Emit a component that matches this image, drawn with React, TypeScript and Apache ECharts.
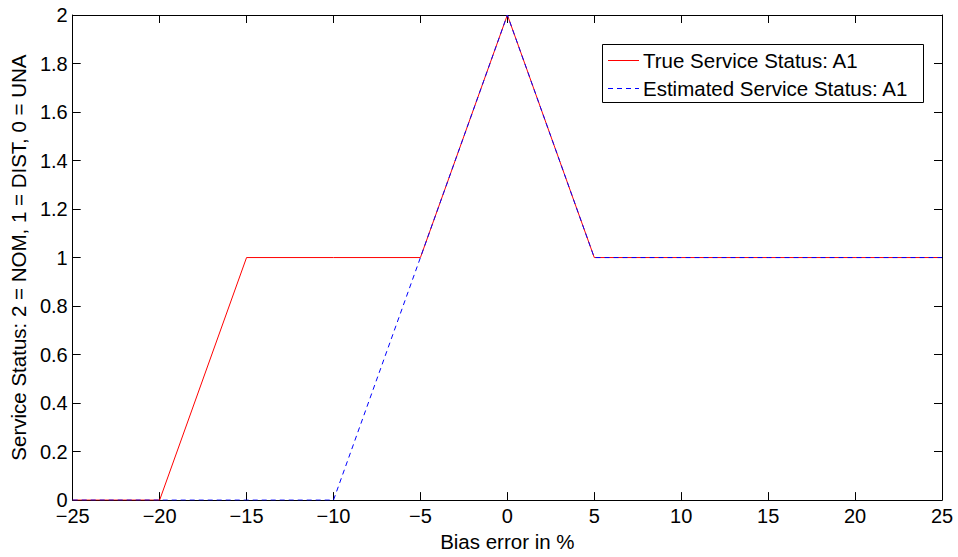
import React, { useEffect, useRef } from "react";
import * as echarts from "echarts";

const xValues = [-25, -20, -15, -10, -5, 0, 5, 10, 15, 20, 25];
const trueStatus = [0, 0, 1, 1, 1, 2, 1, 1, 1, 1, 1];
const estimatedStatus = [0, 0, 0, 0, 1, 2, 1, 1, 1, 1, 1];
const seriesNames = ["True Service Status: A1", "Estimated Service Status: A1"];
const seriesColors = ["#ff0000", "#0000ff"];
const xAxisTitle = "Bias error in %";
const yAxisTitle = "Service Status: 2 = NOM, 1 = DIST, 0 = UNA";

const FONT = "'Liberation Sans', Arial, Helvetica, sans-serif";
const FS = 20;
const LFS = 20.5;
const DASH = [5, 4];

export default function App() {
  const ref = useRef<HTMLDivElement>(null);
  useEffect(() => {
    if (!ref.current) return;
    const chart = echarts.init(ref.current, undefined, { renderer: "svg" });
    const axisLine = { show: true, onZero: false, lineStyle: { color: "#000", width: 1 } };
    const axisTick = { show: true, inside: true, length: 8, lineStyle: { color: "#000", width: 1 } };
    const fmtX = (v: number) => String(v).replace("-", "\u2212");

    const lgX = 602;
    const lgY = 44;
    const rowY = [60.5, 88.5];
    const legendGraphics: any[] = [
      {
        type: "rect",
        shape: { x: lgX + 0.5, y: lgY + 0.5, width: 321, height: 58 },
        style: { fill: "#fff", stroke: "#000", lineWidth: 1 },
        z: 10,
      },
    ];
    seriesNames.forEach((n, i) => {
      legendGraphics.push({
        type: "line",
        shape: { x1: lgX + 6, y1: rowY[i], x2: lgX + 37, y2: rowY[i] },
        style: { stroke: seriesColors[i], lineWidth: 1, lineDash: i === 1 ? DASH : null },
        z: 11,
      });
      legendGraphics.push({
        type: "text",
        x: lgX + 41,
        y: rowY[i],
        style: { text: n, fontFamily: FONT, fontSize: LFS, fill: "#000", verticalAlign: "middle", align: "left" },
        z: 11,
      });
    });

    chart.setOption({
      animation: false,
      backgroundColor: "#fff",
      textStyle: { fontFamily: FONT, color: "#000" },
      grid: { left: 70, right: 16, top: 15, bottom: 51, containLabel: false },
      graphic: legendGraphics,
      xAxis: [
        {
          type: "value",
          min: -25,
          max: 25,
          interval: 5,
          name: xAxisTitle,
          nameLocation: "middle",
          nameGap: 22,
          nameTextStyle: { fontFamily: FONT, fontSize: LFS, color: "#000" },
          axisLine,
          axisTick,
          splitLine: { show: false },
          axisLabel: { fontFamily: FONT, fontSize: FS, color: "#000", margin: 6, formatter: fmtX },
        },
        {
          type: "value",
          position: "top",
          min: -25,
          max: 25,
          interval: 5,
          axisLine,
          axisTick,
          splitLine: { show: false },
          axisLabel: { show: false },
        },
      ],
      yAxis: [
        {
          type: "value",
          min: 0,
          max: 2,
          interval: 0.2,
          name: yAxisTitle,
          nameLocation: "middle",
          nameGap: 38,
          nameRotate: 90,
          nameTextStyle: { fontFamily: FONT, fontSize: LFS, color: "#000" },
          axisLine,
          axisTick,
          splitLine: { show: false },
          axisLabel: { fontFamily: FONT, fontSize: FS, color: "#000", margin: 5 },
        },
        {
          type: "value",
          position: "right",
          min: 0,
          max: 2,
          interval: 0.2,
          axisLine,
          axisTick,
          splitLine: { show: false },
          axisLabel: { show: false },
        },
      ],
      series: [
        {
          name: seriesNames[0],
          type: "line",
          xAxisIndex: 0,
          yAxisIndex: 0,
          data: xValues.map((x, i) => [x, trueStatus[i]]),
          showSymbol: false,
          symbol: "none",
          lineStyle: { color: seriesColors[0], width: 1 },
          itemStyle: { color: seriesColors[0] },
          z: 2,
        },
        {
          name: seriesNames[1],
          type: "line",
          xAxisIndex: 0,
          yAxisIndex: 0,
          data: xValues.map((x, i) => [x, estimatedStatus[i]]),
          showSymbol: false,
          symbol: "none",
          lineStyle: { color: seriesColors[1], width: 1, type: DASH },
          itemStyle: { color: seriesColors[1] },
          z: 3,
        },
      ],
    });
    return () => chart.dispose();
  }, []);
  return <div ref={ref} style={{ width: 958, height: 557, position: "absolute", left: 0, top: 0 }} />;
}
